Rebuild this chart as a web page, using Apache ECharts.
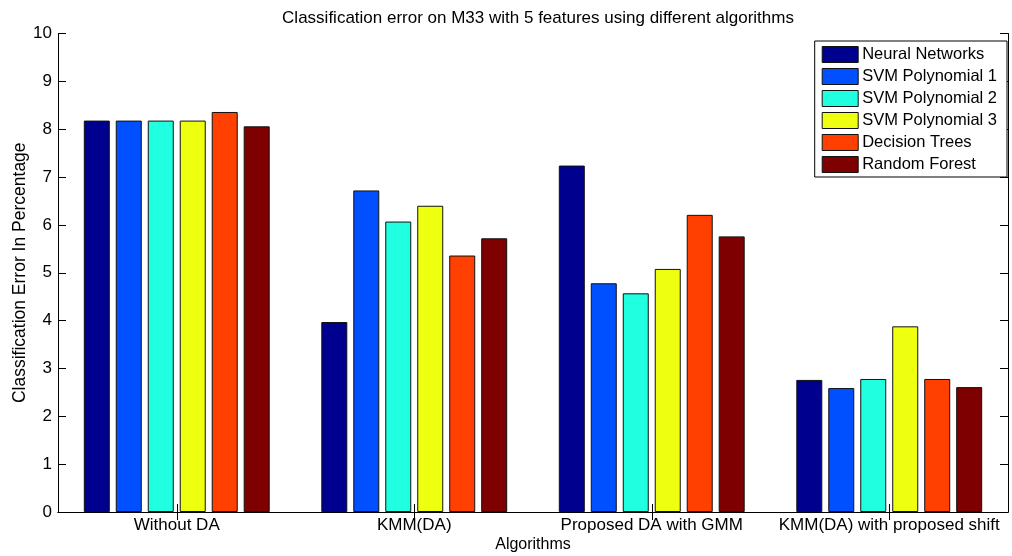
<!DOCTYPE html>
<html>
<head>
<meta charset="utf-8">
<script src="https://cdn.jsdelivr.net/npm/echarts@6/dist/echarts.min.js"></script>
<style>
  html, body { margin: 0; padding: 0; background: #fff; }
  #chart { width: 1012px; height: 556px; }
</style>
</head>
<body>
<div id="chart"></div>
<script>
// values
var groups = ['Without DA', 'KMM(DA)', 'Proposed DA with GMM', 'KMM(DA) with proposed shift'];
var neuralNetworks = [8.18, 3.97, 7.24, 2.76];
var svmPoly1 = [8.18, 6.72, 4.78, 2.59];
var svmPoly2 = [8.18, 6.07, 4.57, 2.78];
var svmPoly3 = [8.18, 6.40, 5.08, 3.88];
var decisionTrees = [8.36, 5.36, 6.21, 2.78];
var randomForest = [8.06, 5.72, 5.76, 2.61];
var yTicks = [0, 1, 2, 3, 4, 5, 6, 7, 8, 9, 10];

var font = 'Liberation Sans';
var chart = echarts.init(document.getElementById('chart'));

function bars(name, data, color) {
    return {
        name: name,
        type: 'bar',
        data: data,
        barWidth: 26,
        barGap: '23%',
        itemStyle: { color: color, borderColor: '#111', borderWidth: 1 }
    };
}

var tickStyle = { show: true, inside: true, length: 8, lineStyle: { color: '#000' } };

var option = {
    animation: false,
    backgroundColor: '#fff',
    title: {
        text: 'Classification error on M33 with 5 features using different algorithms',
        left: 533,
        textAlign: 'center',
        top: 5,
        textStyle: { fontFamily: font, fontSize: 17, fontWeight: 'normal', color: '#000' }
    },
    legend: {
        orient: 'vertical',
        right: 5,
        top: 41,
        itemWidth: 36,
        itemHeight: 16,
        itemGap: 5,
        padding: [5, 10, 4, 7],
        borderColor: '#000',
        borderWidth: 1,
        backgroundColor: '#fff',
        icon: 'rect',
        textStyle: { fontFamily: font, fontSize: 16.5, color: '#000', padding: [0, 0, 0, -1] },
        itemStyle: { borderColor: '#111', borderWidth: 1 }
    },
    grid: { left: 58, right: 4, top: 33.5, bottom: 44, containLabel: false, outerBoundsMode: 'none' },
    xAxis: [
        {
            type: 'category',
            data: groups,
            name: 'Algorithms',
            nameLocation: 'middle',
            nameGap: 25,
            nameMoveOverlap: false,
            nameTextStyle: { fontFamily: font, fontSize: 16, color: '#000' },
            axisLine: { lineStyle: { color: '#000' } },
            axisTick: { show: true, inside: true, length: 8, alignWithLabel: true, lineStyle: { color: '#000' } },
            axisLabel: { interval: 0, fontFamily: font, fontSize: 17, color: '#000', margin: 5 }
        },
        {
            type: 'category',
            data: groups,
            position: 'top',
            axisLine: { lineStyle: { color: '#000' } },
            axisTick: { show: true, inside: true, length: 8, alignWithLabel: true, lineStyle: { color: '#000' } },
            axisLabel: { show: false }
        }
    ],
    yAxis: [
        {
            type: 'value',
            min: 0,
            max: 10,
            interval: 1,
            name: 'Classification Error In Percentage',
            nameLocation: 'middle',
            nameGap: 29,
            nameMoveOverlap: false,
            nameTextStyle: { fontFamily: font, fontSize: 17.5, color: '#000' },
            axisLine: { show: true, lineStyle: { color: '#000' } },
            axisTick: tickStyle,
            splitLine: { show: false },
            axisLabel: {
                fontFamily: font, fontSize: 17, color: '#000', margin: 6,
                formatter: function (v) { return yTicks.indexOf(v) >= 0 ? String(v) : ''; }
            }
        },
        {
            type: 'value',
            min: 0,
            max: 10,
            interval: 1,
            position: 'right',
            axisLine: { show: true, lineStyle: { color: '#000' } },
            axisTick: tickStyle,
            splitLine: { show: false },
            axisLabel: { show: false }
        }
    ],
    series: [
        bars('Neural Networks', neuralNetworks, '#00008F'),
        bars('SVM Polynomial 1', svmPoly1, '#0050FF'),
        bars('SVM Polynomial 2', svmPoly2, '#20FFDF'),
        bars('SVM Polynomial 3', svmPoly3, '#EFFF10'),
        bars('Decision Trees', decisionTrees, '#FF4000'),
        bars('Random Forest', randomForest, '#7F0000')
    ]
};

chart.setOption(option);
</script>
</body>
</html>
